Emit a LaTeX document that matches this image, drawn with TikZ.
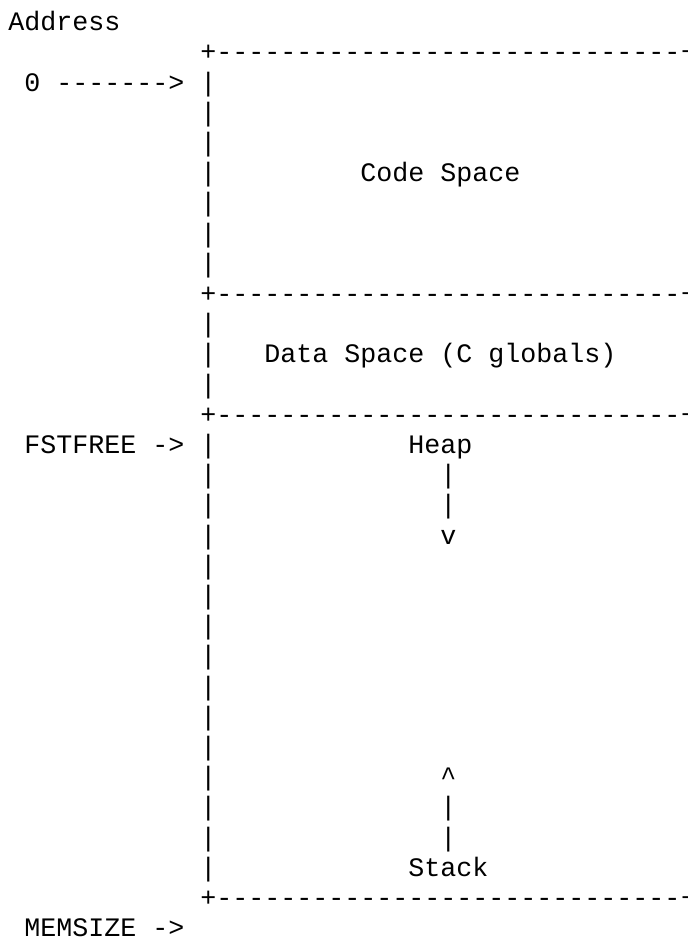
\documentclass[tikz,border=0pt]{standalone}
\usepackage{fontspec}
\setmonofont{Liberation Mono}
\newcommand\asc[4]{\node[txt] (#1) at ({8.4+16*#2},{30.7+30.2*#3}) {#4};}
\newcommand\border{+-----------------------------}
\begin{document}
\begin{tikzpicture}[x=0.75pt,y=-0.75pt,
  txt/.style={anchor=base west, inner sep=0pt, outer sep=0pt,
    font=\ttfamily\fontsize{20pt}{24pt}\selectfont}]
\fill[white] (0,0) rectangle (687,941);
\useasboundingbox (0,0) rectangle (687,941);
\clip (0,0) rectangle (687,941);
% labels on the left
\asc{addr}{0}{0}{Address}
\asc{zero}{1}{2}{0}
\asc{zarrow}{3}{2}{------->}
\asc{fst}{1}{14}{FSTFREE ->}
\asc{mem}{1}{30}{MEMSIZE ->}
% horizontal borders (right corners fall on the cut edge)
\foreach \l/\n in {1/top,9/mid1,13/mid2,29/bot}{
  \asc{b\n}{12}{\l}{\border}
  \asc{c\n}{42.05}{\l}{+}
}
% vertical borders
\foreach \l in {2,...,8,10,11,12,14,15,...,28}{
  \asc{lb\l}{12}{\l}{|}
  \asc{rb\l}{42.08}{\l}{|}
}
% region labels
\asc{code}{22}{5}{Code Space}
\asc{data}{16}{11}{Data Space (C globals)}
\asc{heap}{25}{14}{Heap}
\asc{hb1}{27}{15}{|}
\asc{hb2}{27}{16}{|}
\asc{hv}{27}{17}{v}
\asc{sc}{27}{25}{\textasciicircum}
\asc{sb1}{27}{26}{|}
\asc{sb2}{27}{27}{|}
\asc{stack}{25}{28}{Stack}
\end{tikzpicture}
\end{document}
